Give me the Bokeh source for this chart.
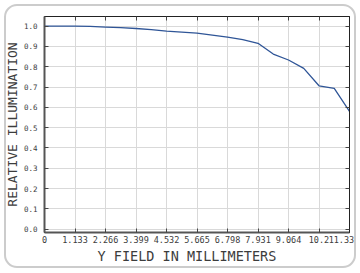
from bokeh.plotting import figure
from bokeh.models import LinearAxis, FixedTicker, Range1d, Title
from bokeh.embed import file_html
from bokeh.resources import INLINE

field_mm = [0, 0.5665, 1.133, 1.6995, 2.266, 2.8325, 3.399, 3.9655, 4.532,
            5.0985, 5.665, 6.2315, 6.798, 7.3645, 7.931, 8.4975, 9.064,
            9.6305, 10.197, 10.7635, 11.33]
rel_illum = [1.0, 1.0, 1.0, 0.998, 0.995, 0.992, 0.988, 0.982, 0.975,
             0.970, 0.965, 0.955, 0.945, 0.933, 0.915, 0.862, 0.833,
             0.792, 0.706, 0.693, 0.580]

x_ticks = [0, 1.133, 2.266, 3.399, 4.532, 5.665, 6.798, 7.931, 9.064, 10.197, 11.33]
x_tick_labels = ["0", "1.133", "2.266", "3.399", "4.532", "5.665", "6.798",
                 "7.931", "9.064", "10.2", "11.33"]
y_ticks = [0.0, 0.1, 0.2, 0.3, 0.4, 0.5, 0.6, 0.7, 0.8, 0.9, 1.0]
y_tick_labels = ["0.0", "0.1", "0.2", "0.3", "0.4", "0.5", "0.6", "0.7",
                 "0.8", "0.9", "1.0"]

FONT = "DejaVu Sans Mono"
TXT = "#3c3c3c"

p = figure(width=360, height=273, output_backend="svg", toolbar_location=None,
           x_range=Range1d(0, 11.33), y_range=Range1d(-0.016, 1.047),
           min_border_left=44, min_border_right=11, min_border_top=16,
           min_border_bottom=41, background_fill_color="white",
           border_fill_color="white")
p.stylesheets = [
    ":host::after { content: ''; position: absolute; left: 4px; top: 4px; "
    "width: 348px; height: 260px; border: 2px solid #cccccc; "
    "border-radius: 13px; pointer-events: none; z-index: 10; }"
]

p.line(field_mm, rel_illum, line_color="#2f5597", line_width=1.3)

p.outline_line_color = "#222222"
p.outline_line_width = 1

p.xgrid.ticker = FixedTicker(ticks=x_ticks)
p.ygrid.ticker = FixedTicker(ticks=y_ticks)
p.xgrid.grid_line_color = "#d9d9d9"
p.ygrid.grid_line_color = "#d9d9d9"

def hide_labels(ax):
    ax.major_label_text_font_size = "1px"
    ax.major_label_text_color = None
    ax.major_label_standoff = 0

# main bottom axis: line + inward ticks only
xa = p.xaxis[0]
xa.ticker = FixedTicker(ticks=x_ticks)
hide_labels(xa)
xa.major_tick_in = 4
xa.major_tick_out = 0
xa.minor_tick_line_color = None
xa.axis_line_color = "#555555"
xa.axis_line_width = 2
xa.major_tick_line_color = "#444444"

# label axis: last label nudged left so it stays inside the box
label_pos = list(x_ticks[:-1]) + [x_ticks[-1] - 0.3]
xl = LinearAxis(ticker=FixedTicker(ticks=label_pos))
xl.major_label_overrides = {t: l for t, l in zip(label_pos, x_tick_labels)}
xl.major_label_text_font = FONT
xl.major_label_text_font_size = "8.5px"
xl.major_label_text_color = TXT
xl.major_label_standoff = 3
xl.major_tick_line_color = None
xl.minor_tick_line_color = None
xl.axis_line_color = None
xl.major_tick_in = 0
xl.major_tick_out = 0
p.add_layout(xl, "below")

ya = p.yaxis[0]
ya.ticker = FixedTicker(ticks=y_ticks)
ya.major_label_overrides = {t: l for t, l in zip(y_ticks, y_tick_labels)}
ya.major_label_text_font = FONT
ya.major_label_text_font_size = "7.5px"
ya.major_label_text_color = TXT
ya.major_label_standoff = 7
ya.major_tick_in = 4
ya.major_tick_out = 0
ya.minor_tick_line_color = None
ya.axis_line_color = "#555555"
ya.axis_line_width = 2
ya.major_tick_line_color = "#444444"
ya.axis_label = "RELATIVE ILLUMINATION"
ya.axis_label_text_font = FONT
ya.axis_label_text_font_size = "13px"
ya.axis_label_text_font_style = "normal"
ya.axis_label_text_color = TXT
ya.axis_label_standoff = 1

for loc, tk in (("above", x_ticks), ("right", y_ticks)):
    ax = LinearAxis(ticker=FixedTicker(ticks=tk))
    hide_labels(ax)
    ax.major_tick_in = 4
    ax.major_tick_out = 0
    ax.minor_tick_line_color = None
    ax.axis_line_color = "#222222"
    ax.major_tick_line_color = "#444444"
    p.add_layout(ax, loc)

xt = Title(text="Y FIELD IN MILLIMETERS", align="left", offset=53,
           text_font=FONT, text_font_size="13.5px", text_font_style="normal",
           text_color=TXT, standoff=1)
p.add_layout(xt, "below")

open("out.html", "w").write(file_html(p, INLINE))
